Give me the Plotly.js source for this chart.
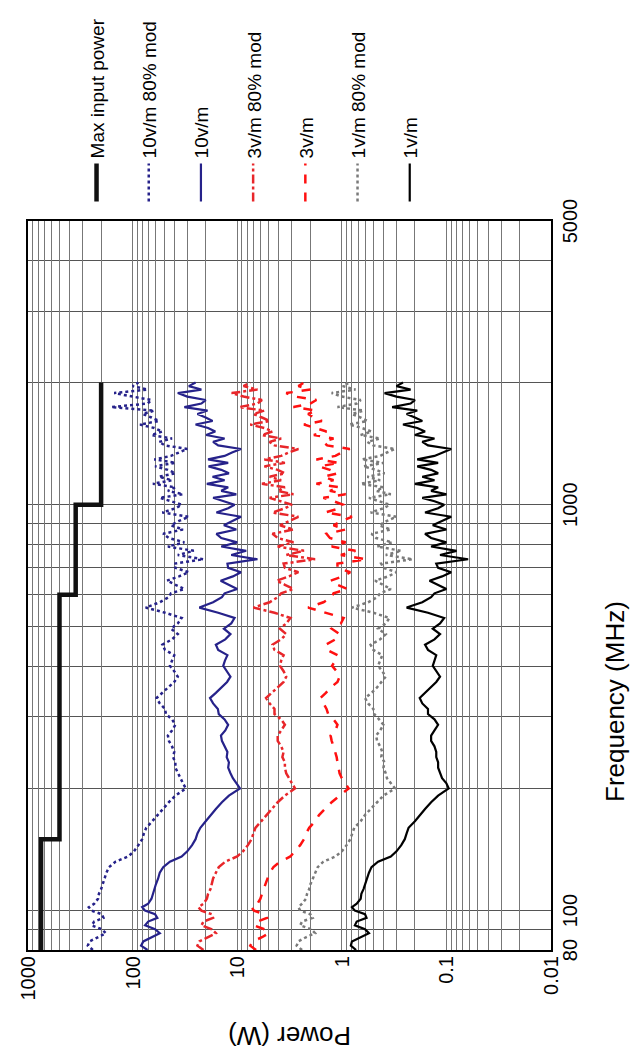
<!DOCTYPE html>
<html>
<head>
<meta charset="utf-8">
<script src="https://cdn.plot.ly/plotly-3.0.1.min.js"></script>
<style>
html,body{margin:0;padding:0;background:#fff;width:639px;height:1063px;overflow:hidden;}
#wrap{position:absolute;left:0;top:0;width:1063px;height:639px;transform-origin:0 0;transform:translate(0,1063px) rotate(-90deg);}
#chart{width:1063px;height:639px;}
</style>
</head>
<body>
<div id="wrap"><div id="chart"></div></div>
<script>
// Frequency points (MHz)
const freq = [80,82,84,86,88,90,92,94,96,98,100,102,104,107,110,113,116,120,124,128,132,136,140,145,150,155,160,166,172,178,185,192,200,
206,212,218,225,232,239,246,254,262,270,278,287,296,305,314,324,334,344,355,366,377,389,401,413,426,439,452,466,480,495,510,526,542,558,575,592,
605,620,635,650,666,682,699,716,734,752,770,789,808,828,848,869,890,912,934,957,980,1000,
1020,1040,1061,1082,1104,1126,1149,1172,1195,1219,1243,1268,1293,1319,1345,1372,1400,1428,1456,1485,1515,1545,1576,1608,1640,1673,1706,1740,1775,1811,1847,1884,1922,1960,2000];

// Max input power (W), step function
const maxFreq = [80,150,600,1000,2000];
const maxPower = [750,500,350,200,200];

const p10vm80 = [240,268,258,214,180,197,246,233,190,197,246,262,233,214,210,200,194,188,178,168,146,110,97,88,81,78,74,65,58,52,45,39,31,
33,35,37,39,39,41,40,42,45,46,42,39,42,48,49,55,59,52,45,40,37,40,44,42,40,49,52,42,37,43,37,34,49,75,55,45,
43,32,39,47,36,29,39,40,21,37,26,46,32,45,51,33,43,36,29,52,39,34,
43,55,33,46,39,64,42,56,39,46,61,39,62,43,36,30,49,56,42,66,52,62,85,56,66,80,62,160,72,66,100,150,72,100,88];

const p10vm = [72,83,79,65,55,61,76,71,58,61,76,81,71,66,64,62,60,57,55,51,44,34,30,27,25,24,22.5,20,18,16,14,12,9.4,
10.2,11,11.6,12.2,12,12.6,12.4,13.2,14,14.3,13,12.2,13.2,15,15.3,17,18.2,16,14,12.5,11.6,12.6,13.6,13.1,12.4,15.2,16,13,11.6,13.4,11.4,10.6,15.2,23,17,14,
13.2,10,12.2,14.4,11,9.2,12.2,12.4,6.4,11.4,8.2,14.2,10,14.2,15.8,10.2,13.4,11.2,9.2,15.8,12.2,10.6,
13.2,17,10.2,14.2,12.2,19.5,13.2,17.2,12,14.2,18.8,12.2,19,13.2,11.2,9.2,15.2,17,13.2,19.8,16.2,19,25,17.2,20,24,19.2,32,22,20,30,37,22,29,25];

const p3vm80 = [21,24,23,19,16,17.5,22,21,17,17.5,22,23.5,21,19.5,19,18,17.5,17,16,15,13,10,8.8,7.9,7.3,7.0,6.7,5.9,5.2,4.7,4.1,3.5,2.8,
3.0,3.2,3.4,3.5,3.5,3.7,3.6,3.8,4.1,4.1,3.8,3.5,3.8,4.4,4.4,4.9,5.3,4.7,4.1,3.6,3.4,3.6,3.9,3.8,3.6,4.4,4.6,3.8,3.4,3.9,3.4,3.1,4.4,7.0,4.9,4.1,
3.8,2.9,3.5,4.2,3.2,2.6,3.5,3.6,1.8,3.4,2.3,4.1,2.9,4.1,4.6,2.9,3.9,3.2,2.6,4.6,3.5,3.0,
3.8,4.9,2.9,4.1,3.5,5.8,3.8,4.9,3.5,4.1,5.5,3.5,5.5,3.8,3.2,2.6,4.4,4.9,3.8,5.8,4.6,5.5,7.5,4.9,5.8,7.0,5.5,9.6,6.4,5.8,8.7,11.3,6.4,8.7,7.5];

const p3vm = [6.6,7.5,7.1,5.8,5.0,5.5,6.9,6.4,5.2,5.5,6.9,7.3,6.4,6.0,5.8,5.6,5.4,5.1,4.9,4.5,3.9,3.1,2.8,2.5,2.3,2.2,2.05,1.8,1.65,1.45,1.25,1.05,0.86,
0.93,1.0,1.05,1.08,1.1,1.12,1.15,1.2,1.25,1.28,1.15,1.1,1.2,1.35,1.4,1.5,1.6,1.42,1.27,1.1,1.05,1.12,1.24,1.15,1.1,1.38,1.42,1.15,1.05,1.25,1.02,0.96,1.4,2.1,1.5,1.25,
1.2,0.88,1.1,1.28,0.98,0.83,1.1,1.1,0.58,1.02,0.74,1.25,0.92,1.3,1.4,0.92,1.2,1.0,0.8,1.45,1.05,0.97,
1.2,1.5,0.92,1.3,1.05,1.75,1.2,1.5,1.1,1.3,1.65,1.05,1.75,1.15,1.0,0.84,1.38,1.5,1.2,1.85,1.4,1.75,2.3,1.55,1.85,2.1,1.75,2.9,2.0,1.75,2.8,3.4,2.0,2.6,2.3];

const p1vm80 = [2.4,2.7,2.6,2.2,1.8,1.95,2.5,2.4,1.9,2.0,2.5,2.6,2.4,2.2,2.15,2.05,2.0,1.9,1.8,1.7,1.5,1.15,1.0,0.9,0.83,0.8,0.76,0.66,0.6,0.53,0.46,0.4,0.31,
0.34,0.37,0.38,0.40,0.39,0.42,0.41,0.43,0.46,0.47,0.43,0.40,0.44,0.49,0.50,0.56,0.60,0.52,0.46,0.42,0.38,0.41,0.45,0.43,0.41,0.50,0.53,0.43,0.38,0.45,0.38,0.35,0.50,0.80,0.56,0.46,
0.43,0.34,0.40,0.48,0.36,0.30,0.40,0.42,0.21,0.38,0.27,0.46,0.33,0.47,0.52,0.34,0.44,0.37,0.30,0.53,0.40,0.35,
0.44,0.55,0.34,0.47,0.40,0.66,0.43,0.57,0.39,0.47,0.62,0.40,0.64,0.43,0.37,0.31,0.50,0.57,0.43,0.66,0.52,0.64,0.85,0.57,0.66,0.80,0.62,1.1,0.72,0.66,1.0,1.25,0.74,0.98,0.85];

const p1vm = [0.73,0.82,0.80,0.66,0.55,0.60,0.75,0.72,0.58,0.60,0.75,0.80,0.72,0.66,0.65,0.62,0.60,0.58,0.55,0.52,0.45,0.34,0.30,0.27,0.25,0.24,0.23,0.20,0.18,0.16,0.14,0.12,0.095,
0.10,0.11,0.115,0.12,0.12,0.125,0.125,0.13,0.14,0.14,0.13,0.12,0.13,0.15,0.15,0.17,0.18,0.16,0.14,0.125,0.115,0.125,0.135,0.13,0.125,0.15,0.16,0.13,0.115,0.135,0.115,0.105,0.15,0.24,0.17,0.14,
0.13,0.10,0.12,0.145,0.11,0.09,0.12,0.125,0.062,0.115,0.08,0.14,0.10,0.14,0.16,0.10,0.135,0.11,0.09,0.16,0.12,0.105,
0.13,0.17,0.10,0.14,0.12,0.20,0.13,0.17,0.12,0.14,0.19,0.12,0.19,0.13,0.11,0.09,0.15,0.17,0.13,0.20,0.16,0.19,0.26,0.17,0.20,0.24,0.19,0.33,0.22,0.20,0.30,0.39,0.22,0.30,0.26];

// Axis ticks
const freqGrid = [80,90,100,200,300,400,500,600,700,800,900,1000,2000,3000,4000,5000];
const freqLabels = ['80','','100','','','','','','','','','1000','','','','5000'];
const powerGrid = [0.01,0.02,0.03,0.04,0.05,0.06,0.07,0.08,0.09,0.1,0.2,0.3,0.4,0.5,0.6,0.7,0.8,0.9,1,2,3,4,5,6,7,8,9,10,20,30,40,50,60,70,80,90,100,200,300,400,500,600,700,800,900,1000];
const powerLabels = powerGrid.map(v => ({0.01:'0.01',0.1:'0.1',1:'1',10:'10',100:'100',1000:'1000'})[v] || '');

const names = ['Max input power','10v/m 80% mod','10v/m','3v/m 80% mod','3v/m','1v/m 80% mod','1v/m'];
const navy = '#26228a', red1 = '#e8262a', red2 = '#ff1010', gray = '#7a7a7a';

const traces = [
  {x:maxFreq, y:maxPower, line:{color:'#111', width:4.5, shape:'hv'}},
  {x:freq, y:p10vm80, line:{color:navy, width:2.5, dash:'dot'}},
  {x:freq, y:p10vm, line:{color:navy, width:2.2}},
  {x:freq, y:p3vm80, line:{color:red1, width:2.5, dash:'dashdot'}},
  {x:freq, y:p3vm, line:{color:red2, width:2.5, dash:'dash'}},
  {x:freq, y:p1vm80, line:{color:gray, width:2.5, dash:'dot'}},
  {x:freq, y:p1vm, line:{color:'#000', width:2.2}}
].map((t,i) => Object.assign(t, {type:'scatter', mode:'lines', name:names[i], legendgroup:'g'+i}));

const font = 'Arial, "Liberation Sans", sans-serif';
const layout = {
  width:1063, height:639,
  margin:{l:113, r:213, t:28, b:88},
  paper_bgcolor:'#fff', plot_bgcolor:'#fff',
  font:{family:font, color:'#000'},
  showlegend:true,
  legend:{x:1.02, xanchor:'left', y:0.905, yanchor:'top', traceorder:'grouped', tracegroupgap:24.5, itemwidth:38,
          font:{size:19, family:font, color:'#000'}, bgcolor:'rgba(0,0,0,0)'},
  xaxis:{type:'log', range:[Math.log10(80), Math.log10(5000)], tickvals:freqGrid, ticktext:freqLabels,
         showgrid:true, gridcolor:'#555', gridwidth:1, ticks:'', showline:true, linecolor:'#000', linewidth:2, mirror:true,
         tickfont:{size:20, family:font}, zeroline:false},
  yaxis:{type:'log', range:[-2, 3], tickvals:powerGrid, ticktext:powerLabels,
         showgrid:true, gridcolor:'#777', gridwidth:1, ticks:'', showline:true, linecolor:'#000', linewidth:2, mirror:true,
         tickfont:{size:20, family:font}, zeroline:false,
         title:{text:'Power (W)', font:{size:26, family:font}, standoff:18}},
  annotations:[{text:'Frequency (MHz)', xref:'paper', yref:'paper', x:0.3406, y:-0.122, xanchor:'center', yanchor:'middle',
                showarrow:false, font:{size:26, family:font, color:'#000'}}]
};
Plotly.newPlot('chart', traces, layout, {staticPlot:true, displayModeBar:false});
</script>
</body>
</html>
